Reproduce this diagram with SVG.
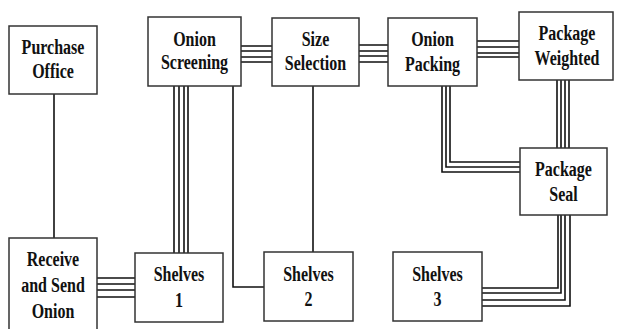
<svg xmlns="http://www.w3.org/2000/svg" width="617" height="329" viewBox="0 0 617 329">
<style>
.box{fill:#fff;stroke:#333;stroke-width:1.5}
.ln{fill:none;stroke:#111;stroke-width:1.6}
.t{font-family:"Liberation Serif","Times New Roman",serif;font-weight:bold;font-size:16px;fill:#111;text-anchor:middle}
</style>
<rect width="617" height="329" fill="#fff"/>
<g id="connectors">
<path class="ln" d="M54,94V238"/>
<path class="ln" d="M97,278H135M97,284H135M97,290H135M97,297H135"/>
<path class="ln" d="M174,86V253M179,86V253M184,86V253M188,86V253"/>
<path class="ln" d="M233,86V287H264"/>
<path class="ln" d="M241,46H272M241,51H272M241,57H272M241,62H272"/>
<path class="ln" d="M313,86V252"/>
<path class="ln" d="M359,45H388M359,51H388M359,56H388M359,62H388"/>
<path class="ln" d="M477,41H519M477,47H519M477,53H519M477,57H519"/>
<path class="ln" d="M557,80V148M561,80V148M565,80V148M569,80V148"/>
<path class="ln" d="M450,86V162H520M446,86V167H520M442,86V172H520"/>
<path class="ln" d="M558,215V288H482M561,215V293H482M565,215V300H482M570,215V306H482"/>
</g>
<g id="purchase-office">
<rect class="box" x="9" y="26" width="88" height="68"/>
<text class="t" transform="translate(53,54) scale(1,1.3)">Purchase</text>
<text class="t" transform="translate(53,78) scale(1,1.3)">Office</text>
</g>
<g id="onion-screening">
<rect class="box" x="148" y="17" width="93" height="69"/>
<text class="t" transform="translate(194.5,46) scale(1,1.3)">Onion</text>
<text class="t" transform="translate(194.5,69) scale(1,1.3)">Screening</text>
</g>
<g id="size-selection">
<rect class="box" x="272" y="18" width="87" height="68"/>
<text class="t" transform="translate(315.5,46) scale(1,1.3)">Size</text>
<text class="t" transform="translate(315.5,70) scale(1,1.3)">Selection</text>
</g>
<g id="onion-packing">
<rect class="box" x="388" y="18" width="89" height="68"/>
<text class="t" transform="translate(432.5,46) scale(1,1.3)">Onion</text>
<text class="t" transform="translate(432.5,71) scale(1,1.3)">Packing</text>
</g>
<g id="package-weighted">
<rect class="box" x="519" y="12" width="94" height="68"/>
<text class="t" transform="translate(567,40) scale(1,1.3)">Package</text>
<text class="t" transform="translate(567,65) scale(1,1.3)">Weighted</text>
</g>
<g id="package-seal">
<rect class="box" x="520" y="148" width="87" height="67"/>
<text class="t" transform="translate(563.5,176) scale(1,1.3)">Package</text>
<text class="t" transform="translate(563.5,201) scale(1,1.3)">Seal</text>
</g>
<g id="receive-send">
<rect class="box" x="9" y="238" width="88" height="100"/>
<text class="t" transform="translate(53,266) scale(1,1.3)">Receive</text>
<text class="t" transform="translate(53,292) scale(1,1.3)">and Send</text>
<text class="t" transform="translate(53,318) scale(1,1.3)">Onion</text>
</g>
<g id="shelves-1">
<rect class="box" x="135" y="253" width="88" height="69"/>
<text class="t" transform="translate(179,281) scale(1,1.3)">Shelves</text>
<text class="t" transform="translate(179,307) scale(1,1.3)">1</text>
</g>
<g id="shelves-2">
<rect class="box" x="264" y="252" width="89" height="69"/>
<text class="t" transform="translate(308.5,281) scale(1,1.3)">Shelves</text>
<text class="t" transform="translate(308.5,306) scale(1,1.3)">2</text>
</g>
<g id="shelves-3">
<rect class="box" x="393" y="252" width="89" height="69"/>
<text class="t" transform="translate(437.5,281) scale(1,1.3)">Shelves</text>
<text class="t" transform="translate(437.5,306) scale(1,1.3)">3</text>
</g>
</svg>
